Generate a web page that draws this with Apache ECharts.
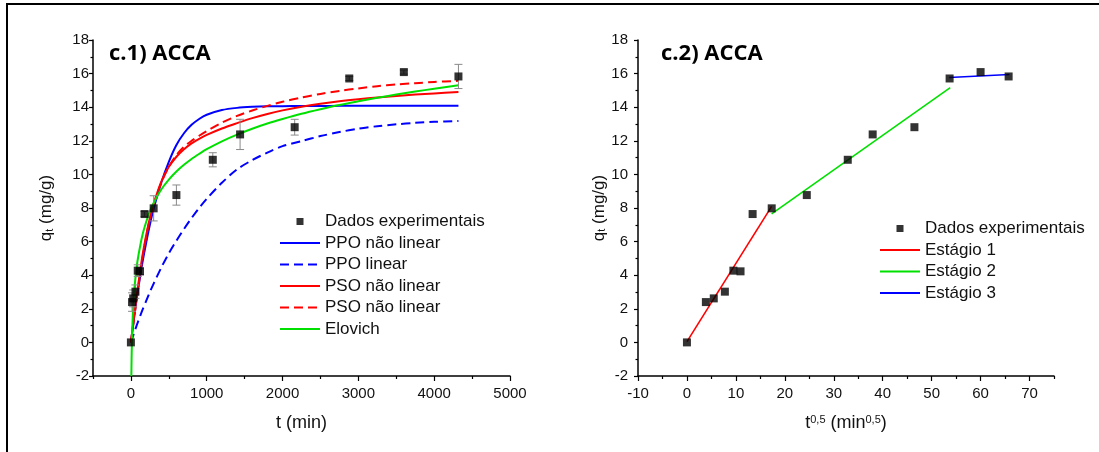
<!DOCTYPE html>
<html><head><meta charset="utf-8">
<script src="https://cdn.jsdelivr.net/npm/echarts@6/dist/echarts.min.js"></script>
<style>html,body{margin:0;padding:0;background:#fff;}#c{width:1099px;height:452px;}</style>
</head><body><div id="c"></div>
<script>
// ---- experimental data ----
const tMin  = [0, 15, 30, 60, 90, 120, 180, 300, 600, 1080, 1440, 2160, 2880, 3600, 4320];
const qExp  = [0, 2.40, 2.62, 3.02, 4.27, 4.23, 7.64, 7.98, 8.77, 10.87, 12.38, 12.81, 15.71, 16.09, 15.83];
const qErr  = [0, 0.55, 0.5, 0.4, 0.35, 0.2, 0.15, 0.75, 0.6, 0.42, 0.9, 0.47, 0.12, 0.12, 0.72];
const sqrtT = [0, 3.87, 5.48, 7.75, 9.49, 10.95, 13.42, 17.32, 24.49, 32.86, 37.95, 46.48, 53.67, 60.0, 65.73];

// ---- model curves ----
const curveT = [0, 25, 50, 75, 100, 150, 200, 250, 300, 400, 500, 600, 700, 800, 900, 1000, 1200, 1400, 1600, 1800, 2000, 2250, 2500, 2750, 3000, 3250, 3500, 3750, 4000, 4320];
const ppoNlQ = [0, 0.9, 1.75, 2.55, 3.3, 4.7, 5.9, 7.0, 7.95, 9.5, 10.75, 11.75, 12.45, 12.95, 13.3, 13.55, 13.83, 13.96, 14.02, 14.05, 14.06, 14.07, 14.07, 14.08, 14.08, 14.08, 14.08, 14.08, 14.08, 14.08];
const ppoLQ  = [0, 0.34, 0.67, 1.0, 1.3, 1.9, 2.45, 3.0, 3.5, 4.45, 5.3, 6.05, 6.75, 7.4, 8.0, 8.55, 9.5, 10.3, 10.85, 11.3, 11.68, 11.98, 12.28, 12.52, 12.72, 12.87, 12.98, 13.07, 13.13, 13.18];
const psoNlQ = [0, 0.93, 1.83, 2.7, 3.55, 5.1, 6.35, 7.4, 8.25, 9.55, 10.45, 11.05, 11.5, 11.85, 12.12, 12.35, 12.73, 13.05, 13.35, 13.6, 13.81, 14.03, 14.21, 14.36, 14.48, 14.58, 14.67, 14.75, 14.82, 14.9];
const psoLQ  = [0, 0.85, 1.7, 2.55, 3.38, 4.95, 6.25, 7.35, 8.2, 9.5, 10.45, 11.15, 11.65, 12.0, 12.3, 12.58, 13.08, 13.48, 13.8, 14.08, 14.32, 14.58, 14.79, 14.97, 15.12, 15.25, 15.35, 15.43, 15.5, 15.57];
const eloT   = [6, 8, 10, 15, 20, 30, 40, 50, 75, 100, 150, 200, 250, 300, 400, 500, 600, 700, 800, 900, 1000, 1200, 1400, 1600, 1800, 2000, 2250, 2500, 2750, 3000, 3250, 3500, 3750, 4000, 4320];
const eloQ   = [-2.0, -1.25, -0.7, 0.35, 1.1, 2.1, 2.85, 3.4, 4.45, 5.2, 6.35, 7.15, 7.8, 8.3, 9.1, 9.69, 10.17, 10.57, 10.92, 11.22, 11.5, 11.97, 12.37, 12.72, 13.03, 13.3, 13.61, 13.88, 14.13, 14.35, 14.56, 14.75, 14.93, 15.1, 15.3];

// ---- intraparticle diffusion stages ----
const st1X = [0, 17.3],    st1Q = [0.05, 8.1];
const st2X = [17.3, 53.8], st2Q = [7.65, 15.16];
const st3X = [53.6, 65.9], st3Q = [15.77, 15.95];

// ---- tick labels ----
const xTicksL = [0, 1000, 2000, 3000, 4000, 5000];
const xMinorL = [-500, 500, 1500, 2500, 3500, 4500];
const xTicksR = [-10, 0, 10, 20, 30, 40, 50, 60, 70];
const xMinorR = [-5, 5, 15, 25, 35, 45, 55, 65, 75];

const ZW = '\u200b';
const FONT = "'Liberation Sans', Arial, sans-serif";
const pair = (xs, ys) => xs.map((x, i) => [x, ys[i]]);

const axisLineStyle = {lineStyle: {color: '#000', width: 1.5}};
function xMain(grid, min, max, interval, ticks, name, nameRich) {
  return {type: 'value', gridIndex: grid, position: 'bottom', min, max, interval,
    axisLine: {show: true, onZero: false, ...axisLineStyle},
    axisTick: {show: true, inside: false, length: 5, customValues: ticks, lineStyle: {color: '#000', width: 1.2}},
    axisLabel: {show: true, customValues: ticks, margin: 10, fontSize: 15, color: '#111', fontFamily: FONT,
      formatter: v => String(v)},
    splitLine: {show: false},
    name, nameLocation: 'middle', nameGap: 38,
    nameTextStyle: {fontSize: 18, color: '#111', fontFamily: FONT, rich: nameRich}};
}
function xMinor(grid, min, max, interval, ticks) {
  return {type: 'value', gridIndex: grid, position: 'bottom', min, max, interval,
    axisLine: {show: false, onZero: false},
    axisTick: {show: true, inside: false, length: 3, customValues: ticks, lineStyle: {color: '#000', width: 1.2}},
    axisLabel: {show: false}, splitLine: {show: false}};
}
function yAxis(grid, margin, gap) {
  return {type: 'value', gridIndex: grid, min: -2, max: 18, interval: 2,
    axisLine: {show: true, onZero: false, ...axisLineStyle},
    axisTick: {show: true, inside: false, length: 4, lineStyle: {color: '#000', width: 1.2}},
    minorTick: {show: true, splitNumber: 2, length: 2.5, lineStyle: {color: '#000', width: 1.2}},
    axisLabel: {margin, fontSize: 15, color: '#111', fontFamily: FONT},
    splitLine: {show: false},
    name: 'q{s|t} (mg/g)', nameLocation: 'middle', nameGap: gap, nameRotate: 90,
    nameTextStyle: {fontSize: 17, color: '#111', fontFamily: FONT,
      rich: {s: {fontSize: 11, color: '#111', fontFamily: FONT, verticalAlign: 'bottom', padding: [8, 0, 0, 0], lineHeight: 11}}}};
}

function errRender(params, api) {
  const x = api.value(0), y = api.value(1), e = api.value(2);
  if (!e) return null;
  const a = api.coord([x, y + e]), b = api.coord([x, y - e]);
  const w = 4, st = {stroke: '#8a8a8a', lineWidth: 1};
  return {type: 'group', children: [
    {type: 'line', shape: {x1: a[0], y1: a[1], x2: b[0], y2: b[1]}, style: st},
    {type: 'line', shape: {x1: a[0] - w, y1: a[1], x2: a[0] + w, y2: a[1]}, style: st},
    {type: 'line', shape: {x1: b[0] - w, y1: b[1], x2: b[0] + w, y2: b[1]}, style: st}
  ]};
}

function curve(name, xs, ys, color, dashed, xi, yi) {
  return {type: 'line', name, xAxisIndex: xi, yAxisIndex: yi, data: pair(xs, ys),
    showSymbol: false, symbol: 'none', smooth: 0.3, clip: true,
    lineStyle: {color, width: 2, type: dashed ? [9, 5] : 'solid'}, itemStyle: {color}, z: 3};
}

const HIDE = {color: 'rgba(0,0,0,0)', borderColor: 'rgba(0,0,0,0)', borderWidth: 0};
const SQ = 'path://M0,0M40,7M16.5,0h7v7h-7z';
const li = name => ({name, itemStyle: HIDE});

const chart = echarts.init(document.getElementById('c'), null, {renderer: 'canvas'});
const legendCommon = {orient: 'vertical', padding: 0, itemWidth: 40, itemHeight: 7, itemGap: 4.5,
  symbolKeepAspect: true, selectedMode: false,
  textStyle: {fontSize: 17, color: '#111', fontFamily: FONT},
  formatter: n => n.replace(/\u200b/g, '')};

chart.setOption({
  backgroundColor: '#fff',
  animation: false,
  title: [
    {text: 'c.1) ACCA', left: 109, top: 43, padding: 0,
     textStyle: {fontFamily: "'Open Sans', sans-serif", fontWeight: 'bold', fontSize: 22, color: '#000'}},
    {text: 'c.2) ACCA', left: 661, top: 43, padding: 0,
     textStyle: {fontFamily: "'Open Sans', sans-serif", fontWeight: 'bold', fontSize: 22, color: '#000'}}
  ],
  grid: [
    {left: 93, top: 40, width: 417, height: 336, containLabel: false},
    {left: 638, top: 40, width: 416, height: 336, containLabel: false}
  ],
  xAxis: [
    xMain(0, -500, 5000, 500, xTicksL, 't (min)', {}),
    xMinor(0, -500, 5000, 500, xMinorL),
    xMain(1, -10, 75, 5, xTicksR, 't{p|0,5} (min{p|0,5})',
      {p: {fontSize: 11, color: '#111', fontFamily: FONT, verticalAlign: 'top'}}),
    xMinor(1, -10, 75, 5, xMinorR)
  ],
  yAxis: [yAxis(0, 4, 38), yAxis(1, 10, 30)],
  legend: [
    Object.assign({}, legendCommon, {left: 279, top: 213,
      data: [{name: 'Dados experimentais', icon: SQ}, li('PPO não linear'), li('PPO linear'),
             li('PSO não linear'), li('PSO não linear' + ZW), li('Elovich')]}),
    Object.assign({}, legendCommon, {left: 879, top: 220,
      data: [{name: 'Dados experimentais' + ZW, icon: SQ}, li('Estágio 1'), li('Estágio 2'), li('Estágio 3')]})
  ],
  graphic: [
    {type: 'polyline', shape: {points: [[7, 460], [7, 4], [1110, 4]]},
     style: {stroke: '#000', lineWidth: 2, fill: null}, z: 100}
  ],
  series: [
    curve('PPO não linear', curveT, ppoNlQ, '#0000FF', false, 0, 0),
    curve('PPO linear', curveT, ppoLQ, '#0000FF', true, 0, 0),
    curve('PSO não linear', curveT, psoNlQ, '#FF0000', false, 0, 0),
    curve('PSO não linear' + ZW, curveT, psoLQ, '#FF0000', true, 0, 0),
    curve('Elovich', eloT, eloQ, '#00E000', false, 0, 0),
    {type: 'custom', name: 'err', xAxisIndex: 0, yAxisIndex: 0, renderItem: errRender,
     data: tMin.map((t, i) => [t, qExp[i], qErr[i]]), z: 4, silent: true},
    {type: 'scatter', name: 'Dados experimentais', xAxisIndex: 0, yAxisIndex: 0,
     data: pair(tMin, qExp), symbol: 'rect', symbolSize: 8, itemStyle: {color: '#000'}, z: 5},
    // right panel
    {type: 'line', name: 'Estágio 1', xAxisIndex: 2, yAxisIndex: 1, data: pair(st1X, st1Q), showSymbol: false, symbol: 'none',
     lineStyle: {color: '#FF0000', width: 1.6}, itemStyle: {color: '#FF0000'}, z: 3},
    {type: 'line', name: 'Estágio 2', xAxisIndex: 2, yAxisIndex: 1, data: pair(st2X, st2Q), showSymbol: false, symbol: 'none',
     lineStyle: {color: '#00E000', width: 1.6}, itemStyle: {color: '#00E000'}, z: 3},
    {type: 'line', name: 'Estágio 3', xAxisIndex: 2, yAxisIndex: 1, data: pair(st3X, st3Q), showSymbol: false, symbol: 'none',
     lineStyle: {color: '#0000FF', width: 1.6}, itemStyle: {color: '#0000FF'}, z: 3},
    {type: 'scatter', name: 'Dados experimentais' + ZW, xAxisIndex: 2, yAxisIndex: 1,
     data: pair(sqrtT, qExp), symbol: 'rect', symbolSize: 8, itemStyle: {color: '#000'}, z: 5}
  ]
});
</script></body></html>
